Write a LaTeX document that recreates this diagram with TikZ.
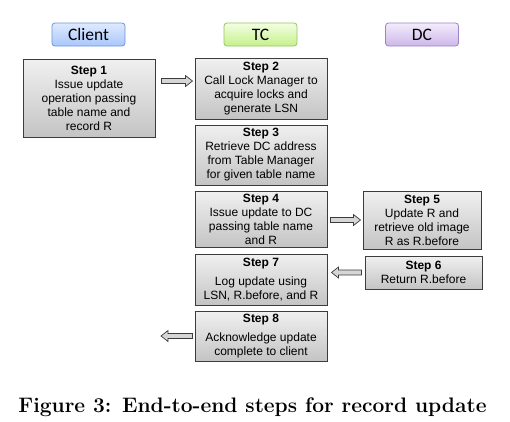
\documentclass[tikz,border=0pt]{standalone}
\usepackage{fontspec}
\usetikzlibrary{calc}
\newfontfamily\boxfont{Liberation Sans}
\newfontfamily\headfont{Carlito}

\definecolor{boxtop}{HTML}{F0F0F0}
\definecolor{boxbot}{HTML}{C4C4C4}
\definecolor{boxline}{HTML}{3C3C3C}
\definecolor{cltop}{HTML}{DFEAFF}
\definecolor{clbot}{HTML}{A9C6FB}
\definecolor{clline}{HTML}{6C95D8}
\definecolor{tctop}{HTML}{F2FFE2}
\definecolor{tcbot}{HTML}{C6F08C}
\definecolor{tcline}{HTML}{97C462}
\definecolor{dctop}{HTML}{F3ECFB}
\definecolor{dcbot}{HTML}{CDB7EA}
\definecolor{dcline}{HTML}{9D82C6}

\begin{document}
\begin{tikzpicture}[x=1pt,y=-1pt,
	head/.style = {rounded corners=3pt,
		line width=0.8pt,
		minimum width=73pt,
		minimum height=23pt,
		inner sep=0pt,
		font=\headfont\fontsize{17.5}{20}\selectfont},
	stepbox/.style = {draw=boxline,
		line width=1pt,
		top color=boxtop,
		bottom color=boxbot,
		inner sep=0pt,
		align=center,
		font=\boxfont\fontsize{12}{14}\selectfont},
	barrow/.style = {draw=boxline,
		line width=0.7pt,
		fill=boxbot!70,
		to path={let \p1=(\tikztostart), \p2=(\tikztotarget),
			\n1={sign(\x2-\x1)} in
			(\x1,\y1+2.5pt) -- (\x2-\n1*7pt,\y1+2.5pt) -- (\x2-\n1*7pt,\y1+5.5pt)
			-- (\x2,\y1) -- (\x2-\n1*7pt,\y1-5.5pt) -- (\x2-\n1*7pt,\y1-2.5pt)
			-- (\x1,\y1-2.5pt) -- cycle}}]
	
	\useasboundingbox (0,0) rectangle (510,421);
	
	% Column heads
	\node[head,draw=clline,top color=cltop,bottom color=clbot] (client) at (88.5,34.5) {Client};
	\node[head,draw=tcline,top color=tctop,bottom color=tcbot] (tc) at (260.5,34.5) {TC};
	\node[head,draw=dcline,top color=dctop,bottom color=dcbot] (dc) at (422,34.5) {DC};
	
	% Client
	\node[stepbox,minimum width=132pt,minimum height=78pt] (s1) at (89,98)
		{\textbf{Step 1}\\Issue update\\operation passing\\table name and\\record R};
	
	% TC
	\node[stepbox,minimum width=132pt,minimum height=61pt] (s2) at (261,88.5)
		{\textbf{Step 2}\\Call Lock Manager to\\acquire locks and\\generate LSN};
	\node[stepbox,minimum width=132pt,minimum height=60pt] (s3) at (261,155)
		{\textbf{Step 3}\\Retrieve DC address\\from Table Manager\\for given table name};
	\node[stepbox,minimum width=132pt,minimum height=56pt] (s4) at (261,219)
		{\textbf{Step 4}\\Issue update to DC\\passing table name\\and R};
	\node[stepbox,minimum width=132pt,minimum height=51pt] (s7) at (261,279.5)
		{\textbf{Step 7}\\[5pt]Log update using\\LSN, R.before, and R};
	\node[stepbox,minimum width=132pt,minimum height=50pt] (s8) at (261,336)
		{\textbf{Step 8}\\[5pt]Acknowledge update\\complete to client};
	
	% DC
	\node[stepbox,minimum width=118pt,minimum height=58pt] (s5) at (422,220)
		{\textbf{Step 5}\\Update R and\\retrieve old image\\R as R.before};
	\node[stepbox,minimum width=117pt,minimum height=33pt] (s6) at (423.5,272.5)
		{\textbf{Step 6}\\Return R.before};
	
	% Arrows
	\coordinate (ack) at (161,336);
	\draw[barrow] ([xshift=6pt,yshift=17pt]s1.east) to ([xshift=-2pt]s2.west);
	\draw[barrow] ([xshift=3pt,yshift=-1pt]s4.east) to ([xshift=-2pt]s5.west);
	\draw[barrow] ([xshift=-3pt]s6.west) to ([xshift=4pt]s7.east);
	\draw[barrow] ([xshift=-2pt]s8.west) to (ack);
	
	% Caption
	\node[anchor=base,font=\fontsize{21}{25}\selectfont\bfseries] (cap) at (252.5,412)
		{Figure 3: End-to-end steps for record update};
	
\end{tikzpicture}
\end{document}
